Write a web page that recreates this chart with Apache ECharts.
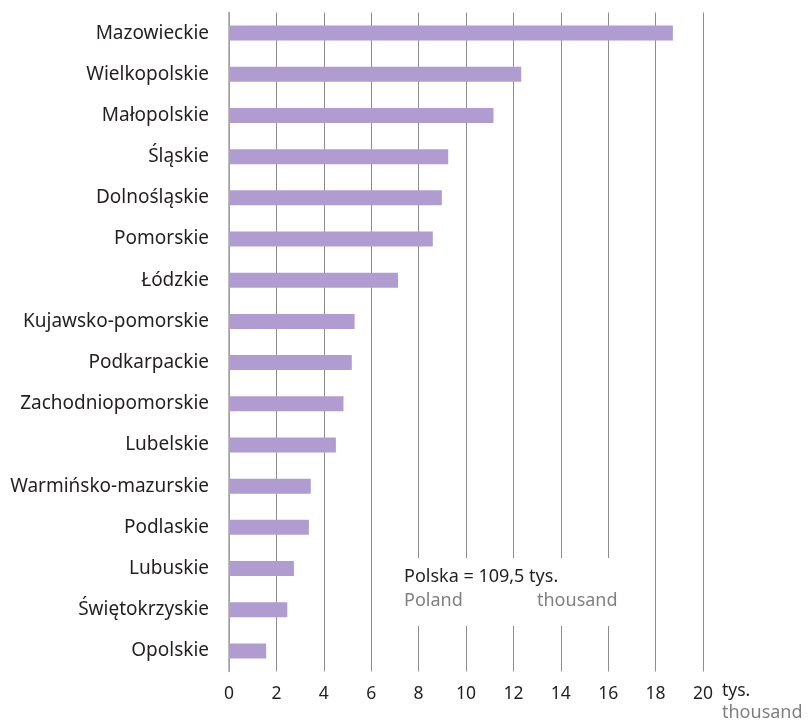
<!DOCTYPE html>
<html>
<head>
<meta charset="utf-8">
<script src="https://cdn.jsdelivr.net/npm/echarts@6/dist/echarts.min.js"></script>
<style>
  html, body { margin: 0; padding: 0; background: #fff; }
  #chart { width: 808px; height: 723px; }
</style>
</head>
<body>
<div id="chart"></div>
<script>
// Voivodeships, largest first
const regions = [
  'Mazowieckie', 'Wielkopolskie', 'Małopolskie', 'Śląskie', 'Dolnośląskie',
  'Pomorskie', 'Łódzkie', 'Kujawsko-pomorskie', 'Podkarpackie',
  'Zachodniopomorskie', 'Lubelskie', 'Warmińsko-mazurskie', 'Podlaskie',
  'Lubuskie', 'Świętokrzyskie', 'Opolskie'
];
// Values in thousands
const values = [
  18.73, 12.33, 11.16, 9.25, 8.98,
  8.60, 7.13, 5.30, 5.18,
  4.83, 4.51, 3.45, 3.37,
  2.74, 2.46, 1.57
];
const xTicks = [0, 2, 4, 6, 8, 10, 12, 14, 16, 18, 20];
const totalLabel = 'Polska = 109,5 tys.';
const totalLabelEn = ['Poland', 'thousand'];
const unitLabel = 'tys.';
const unitLabelEn = 'thousand';

const FONT = '"Noto Sans", sans-serif';
const DARK = '#231f20';
const GREY = '#808080';

function txt(left, top, text, color, size) {
  return {
    type: 'text', left: left, top: top, z: 11,
    style: { text: text, fill: color, fontFamily: FONT, fontSize: size }
  };
}

const chart = echarts.init(document.getElementById('chart'), null, { renderer: 'canvas' });

chart.setOption({
  animation: false,
  backgroundColor: '#ffffff',
  grid: { left: 229, right: 105, top: 12.5, bottom: 51.5, containLabel: false },
  xAxis: {
    type: 'value',
    min: xTicks[0],
    max: xTicks[xTicks.length - 1],
    interval: 2,
    axisLine: { show: false },
    axisTick: { show: false },
    axisLabel: { color: DARK, fontFamily: FONT, fontSize: 17.5, margin: 14 },
    splitLine: { show: true, lineStyle: { color: '#8c8c8c', width: 1 } }
  },
  yAxis: {
    type: 'category',
    data: regions,
    inverse: true,
    axisLine: { show: true, lineStyle: { color: '#a6a6a6', width: 1.5 } },
    axisTick: { show: false },
    axisLabel: { color: DARK, fontFamily: FONT, fontSize: 19, margin: 20, padding: [3, 0, 0, 0] },
    splitLine: { show: false }
  },
  series: [{
    type: 'bar',
    data: values,
    barWidth: 15,
    itemStyle: { color: '#b09cd0' },
    z: 3
  }],
  graphic: [
    {
      type: 'rect',
      left: 395, top: 558,
      shape: { width: 236, height: 68 },
      style: { fill: '#ffffff' },
      z: 10
    },
    txt(404, 568, totalLabel, DARK, 18),
    txt(404, 592, totalLabelEn[0], GREY, 18),
    txt(537, 592, totalLabelEn[1], GREY, 18),
    txt(722, 682, unitLabel, DARK, 17.5),
    txt(722, 704, unitLabelEn, GREY, 18)
  ]
});
</script>
</body>
</html>
